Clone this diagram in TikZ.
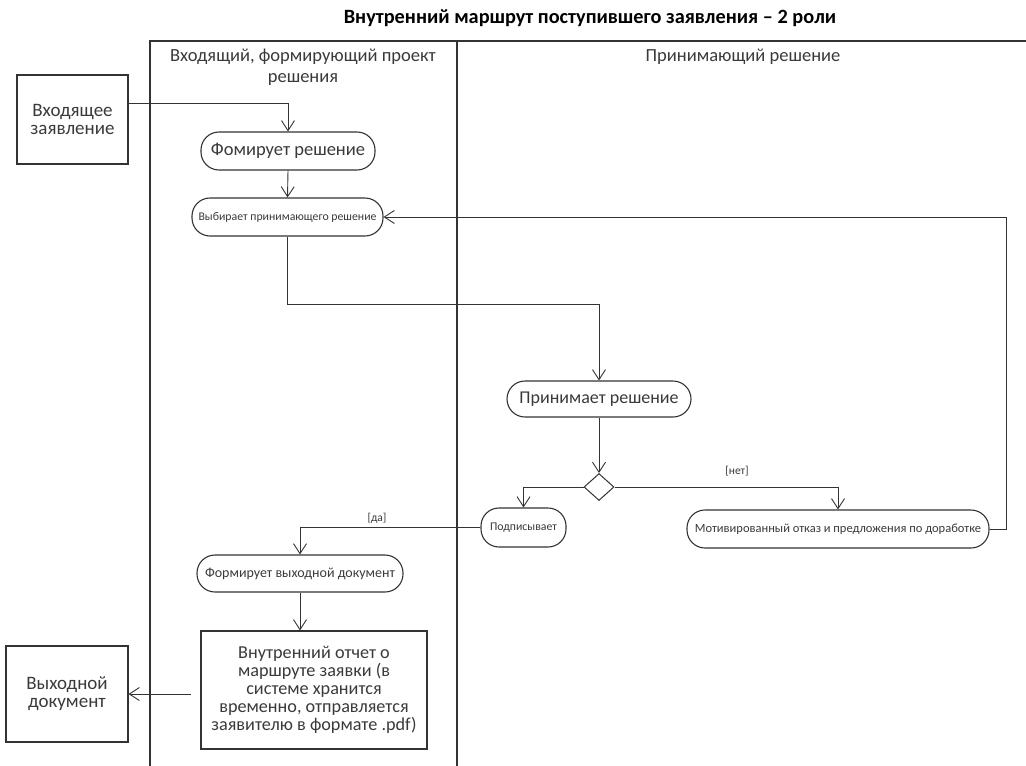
\documentclass[tikz,border=0pt]{standalone}
\usepackage{fontspec}
\setmainfont{Carlito}
\usetikzlibrary{arrows.meta,shapes.geometric,calc}

\definecolor{ink}{HTML}{333333}
\definecolor{txt}{HTML}{3A3A3A}

\tikzset{
  arr/.style={draw=ink, line width=0.9pt, -{Straight Barb[length=10pt,width=13pt,line width=0.9pt]}},
  lane/.style={draw=ink, line width=1.1pt},
  act/.style={draw=ink, line width=1.1pt, rounded corners=18pt, inner sep=0pt,
              text=txt, align=center},
  obj/.style={draw=ink, line width=1.1pt, inner sep=0pt, text=txt, align=center},
  dec/.style={draw=ink, line width=1pt, diamond, inner sep=0pt, minimum width=30pt, minimum height=27pt},
  guard/.style={text=txt, font=\fontsize{11.5}{13}\selectfont, inner sep=1pt},
  hdr/.style={text=txt, font=\fontsize{18.5}{21}\selectfont, align=center},
}

\begin{document}
\begin{tikzpicture}[x=1pt,y=-1pt]
\useasboundingbox (0,0) rectangle (1026,766);

% title
\node[font=\bfseries\fontsize{20.3}{23}\selectfont, text=black] (title) at (590,18)
  {Внутренний маршрут поступившего заявления – 2 роли};

% swimlanes
\draw[lane] (150,766) -- (150,41) -- (1026,41);
\draw[lane] (457,41) -- (457,766);
\node[hdr] (h1) at (303,67) {Входящий, формирующий проект\\решения};
\node[hdr] (h2) at (743,57) {Принимающий решение};

% objects outside the lanes
\node[obj, minimum width=111pt, minimum height=89pt, font=\fontsize{19}{18}\selectfont]
  (in) at (72.5,119.5) {Входящее\\заявление};
\node[obj, minimum width=122pt, minimum height=96pt, font=\fontsize{19}{18}\selectfont]
  (out) at (67,694) {Выходной\\документ};

% activities
\node[act, minimum width=174pt, minimum height=38pt, font=\fontsize{18.5}{20}\selectfont]
  (form1) at (288,151) {Фомирует решение};
\node[act, minimum width=191pt, minimum height=38pt, font=\fontsize{11.8}{13}\selectfont]
  (choose) at (287.5,217) {Выбирает принимающего решение};
\node[act, minimum width=184pt, minimum height=36pt, font=\fontsize{18}{20}\selectfont]
  (accept) at (599,399) {Принимает решение};
\node[dec] (dia) at (599,487) {};
\node[act, minimum width=85pt, minimum height=39pt, font=\fontsize{11.8}{13}\selectfont]
  (sign) at (523.5,527.5) {Подписывает};
\node[act, minimum width=302pt, minimum height=38pt, font=\fontsize{12.5}{14}\selectfont]
  (refuse) at (838,529) {Мотивированный отказ и предложения по доработке};
\node[act, minimum width=206pt, minimum height=37pt, font=\fontsize{14}{16}\selectfont]
  (formout) at (300,573.5) {Формирует выходной документ};
\node[obj, minimum width=226pt, minimum height=118pt, font=\fontsize{18.2}{18}\selectfont]
  (report) at (314,690) {Внутренний отчет о\\маршруте заявки (в\\системе хранится\\временно, отправляется\\заявителю в формате .pdf)};

% flows
\draw[arr] ([yshift=16.5pt]in.east) -| (form1.north);
\draw[arr] (form1.south) -- (choose.north);
\draw[arr] (choose.south) -- ++(0,68) -| (accept.north);
\draw[arr] (accept.south) -- (dia.north);
\draw[arr] (dia.west) -| (sign.north);
\draw[arr] (dia.east) -| (refuse.north);
\node[guard] (no) at (737,471) {[нет]};
\draw[arr] (refuse.east) -- ++(17,0) |- (choose.east);
\draw[arr] (sign.west) -| (formout.north);
\node[guard] (yes) at (377,518) {[да]};
\draw[arr] (formout.south) -- (formout.south |- report.north);
\draw[arr] ([xshift=-9pt]report.west |- out.east) -- (out.east);
\end{tikzpicture}
\end{document}
